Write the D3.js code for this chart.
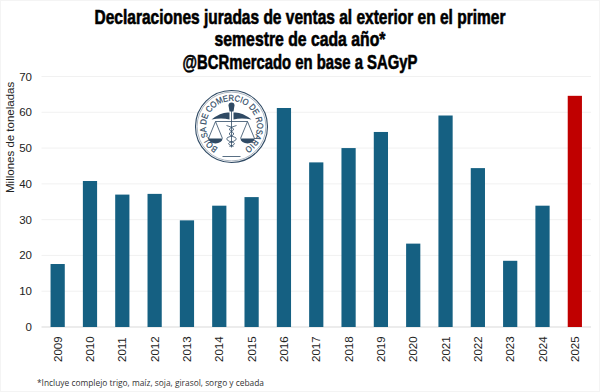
<!DOCTYPE html>
<html>
<head>
<meta charset="utf-8">
<script src="https://cdn.jsdelivr.net/npm/d3@7"></script>
<style>
  html, body { margin: 0; padding: 0; background: #fff; }
  svg { display: block; }
  text { font-family: "Liberation Sans", Arial, sans-serif; }
  .title { font-weight: 700; font-size: 19.5px; fill: #000; stroke: #000; stroke-width: .6px; text-anchor: middle; }
  .note { font-family: "Open Sans", sans-serif; font-size: 9.8px; fill: #333; }
  .axis-label { font-size: 11.5px; fill: #222; }
  .tick-label { font-size: 11.5px; fill: #222; }
</style>
</head>
<body>
<div id="chart"></div>
<script>
const years = ["2009", "2010", "2011", "2012", "2013", "2014", "2015", "2016", "2017", "2018", "2019", "2020", "2021", "2022", "2023", "2024", "2025"];
const tonnes = [17.6, 40.8, 37, 37.2, 29.8, 33.9, 36.3, 61.2, 46, 50, 54.5, 23.3, 59.1, 44.4, 18.5, 33.9, 64.6];
const yTicks = [0, 10, 20, 30, 40, 50, 60, 70];
const titleLines = [
  "Declaraciones juradas de ventas al exterior en el primer",
  "semestre de cada año*",
  "@BCRmercado en base a SAGyP"
];
const footnote = "*Incluye complejo trigo, maíz, soja, girasol, sorgo y cebada";
const yAxisTitle = "Millones de toneladas";
const logoText = "BOLSA DE COMERCIO DE ROSARIO";

const width = 600, height = 392;
const margin = { top: 76.5, right: 9, bottom: 65, left: 41.5 };
const titleWidths = [411, 171, 235];

const svg = d3.select("#chart").append("svg")
    .attr("width", width)
    .attr("height", height);

// faint frame of the pasted image
svg.append("rect")
    .attr("x", .5).attr("y", .5)
    .attr("width", width - 1).attr("height", height - 1)
    .attr("fill", "none").attr("stroke", "#f4f4f4");

const x = d3.scaleBand()
    .domain(years)
    .range([margin.left, width - margin.right])
    .paddingInner(.56)
    .paddingOuter(.28);

const y = d3.scaleLinear()
    .domain([0, 70])
    .range([height - margin.bottom, margin.top]);

// gridlines
svg.append("g").selectAll("line")
    .data(yTicks)
  .enter().append("line")
    .attr("x1", margin.left)
    .attr("x2", width - margin.right)
    .attr("y1", d => y(d))
    .attr("y2", d => y(d))
    .attr("stroke", d => d === 0 ? "#d9d9d9" : "#f1f1f1")
    .attr("stroke-width", 1);

// y tick labels
svg.append("g").selectAll("text")
    .data(yTicks)
  .enter().append("text")
    .attr("class", "tick-label")
    .attr("x", 32)
    .attr("y", d => y(d))
    .attr("dy", ".35em")
    .attr("text-anchor", "end")
    .text(d => d);

// logo
const logo = svg.append("g").attr("transform", "translate(231.5,126.5)");
const ink = "#2f4a64";

[[36, 1.1], [34.4, .4]].forEach(([r, w]) => {
  logo.append("circle")
      .attr("r", r)
      .attr("fill", r === 36 ? "#fff" : "none")
      .attr("stroke", ink)
      .attr("stroke-width", w);
});

const ringRadius = 25.5;
const ringStart = 122 * Math.PI / 180, ringEnd = 418 * Math.PI / 180;
const ring = d3.path();
ring.arc(0, 0, ringRadius, ringStart, ringEnd);

logo.append("path")
    .attr("id", "logo-arc")
    .attr("fill", "none")
    .attr("d", ring.toString());

logo.append("text")
    .attr("font-size", 8.8)
    .attr("fill", ink)
    .attr("stroke", ink)
    .attr("stroke-width", .2)
  .append("textPath")
    .attr("href", "#logo-arc")
    .attr("textLength", ringRadius * (ringEnd - ringStart))
    .attr("lengthAdjust", "spacingAndGlyphs")
    .text(logoText);

// scales and caduceus
const logoLines = [
  "M-16,-5 L16,-5",
  "M0,-21 L0,21",
  "M-16,-5 L-23,12 M-16,-5 L-9,12 M16,-5 L23,12 M16,-5 L9,12",
  "M-5,-1 Q6,2 0,5 Q-6,8 4,11 Q7,14 -2,16 Q-5,18 2,20",
  "M5,-1 Q-6,2 0,5 Q6,8 -4,11 Q-7,14 2,16 Q5,18 -2,20",
  "M-9,30 L9,30"
];
logo.selectAll(".logo-line")
    .data(logoLines)
  .enter().append("path")
    .attr("class", "logo-line")
    .attr("d", d => d)
    .attr("fill", "none")
    .attr("stroke", ink)
    .attr("stroke-width", .8);

const logoShapes = [
  "M-23,12 A7,5 0 0 0 -9,12 Z",
  "M9,12 A7,5 0 0 0 23,12 Z",
  "M-20,-7 Q-10,-15 -2,-14 L-2,-7 Q-10,-9 -20,-7 Z",
  "M20,-7 Q10,-15 2,-14 L2,-7 Q10,-9 20,-7 Z",
  "M-3,-21 A3,3 0 0 1 3,-21 L2,-15 L-2,-15 Z"
];
logo.selectAll(".logo-shape")
    .data(logoShapes)
  .enter().append("path")
    .attr("class", "logo-shape")
    .attr("d", d => d)
    .attr("fill", ink);

// bars
svg.append("g").selectAll("rect")
    .data(years.map((d, i) => ({ year: d, value: tonnes[i] })))
  .enter().append("rect")
    .attr("x", d => x(d.year))
    .attr("y", d => y(d.value))
    .attr("width", x.bandwidth())
    .attr("height", d => y(0) - y(d.value))
    .attr("fill", d => d.year === "2025" ? "#c00000" : "#156082");

// x labels
svg.append("g").selectAll("text")
    .data(years)
  .enter().append("text")
    .attr("class", "tick-label")
    .attr("transform", d => `translate(${x(d) + x.bandwidth() / 2},362) rotate(-90)`)
    .attr("dy", ".35em")
    .text(d => d);

svg.append("text")
    .attr("class", "axis-label")
    .attr("transform", "translate(10,193) rotate(-90)")
    .attr("dy", ".35em")
    .text(yAxisTitle);

// no condensed heavy face installed, so squeeze the bold one to the reference widths
svg.selectAll(".title")
    .data(titleLines)
  .enter().append("text")
    .attr("class", "title")
    .text(d => d)
    .attr("transform", function(d, i) {
      const sx = titleWidths[i] / this.getComputedTextLength();
      return `translate(300,${23.5 + i * 22.5}) scale(${sx},1)`;
    });

svg.append("text")
    .attr("class", "note")
    .attr("x", 37)
    .attr("y", 386)
    .attr("textLength", 227)
    .attr("lengthAdjust", "spacingAndGlyphs")
    .text(footnote);
</script>
</body>
</html>
